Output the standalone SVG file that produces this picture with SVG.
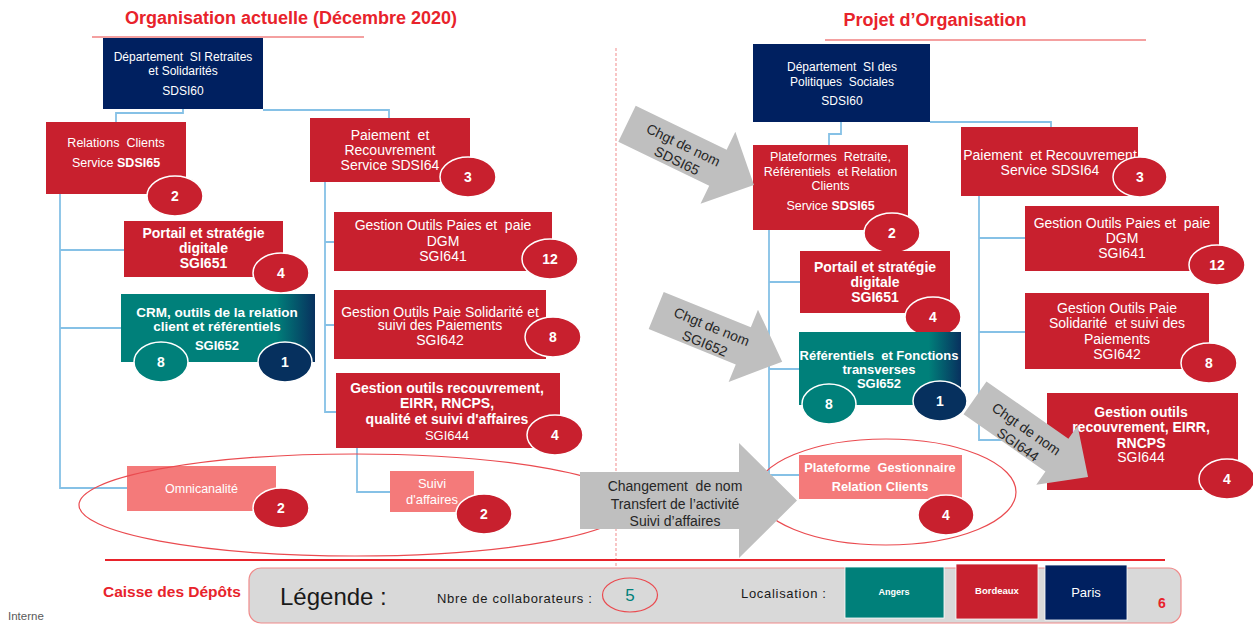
<svg xmlns="http://www.w3.org/2000/svg" width="1253" height="625" viewBox="0 0 1253 625">
<defs>
<linearGradient id="tealGrad" x1="0" y1="0" x2="1" y2="0">
<stop offset="0" stop-color="#00807a"/>
<stop offset="0.8" stop-color="#00807a"/>
<stop offset="1" stop-color="#08305e"/>
</linearGradient>
<style>
text{font-family:'Liberation Sans',Arial,sans-serif;white-space:pre}
.red{fill:#c8202e}
.navy{fill:#002060}
.teal{fill:url(#tealGrad)}
.salmon{fill:#f47a7a}
.lbl{fill:#fff;text-anchor:middle}
.b{font-weight:bold}
.s12{font-size:12px}
.s125{font-size:12.5px}
.s13{font-size:13px}
.s14{font-size:14px}
.bdg ellipse{stroke:#fff;stroke-width:1.5}
.bdg text{fill:#fff;font-size:14px;font-weight:bold;text-anchor:middle}
.br{fill:#c8202e}
.bt{fill:#00807a}
.bn{fill:#06305e}
.conn{fill:none;stroke:#86c1e6;stroke-width:1.8}
.garrow{fill:#bfbfbf}
.gtxt{fill:#262626;font-size:14px;text-anchor:middle}
.title{fill:#e8232b;font-size:18px;font-weight:bold;text-anchor:middle}
.uline{stroke:#f08080;stroke-width:1.5}
.ell{fill:none;stroke:#ea4b50;stroke-width:1.2}
</style>
</defs>
<rect width="1253" height="625" fill="#fff"/>

<!-- titles -->
<text class="title" x="291" y="24">Organisation actuelle (Décembre 2020)</text>
<line class="uline" x1="92" y1="37" x2="364" y2="37"/>
<text class="title" x="935" y="26">Projet d’Organisation</text>
<line class="uline" x1="825" y1="40" x2="1146" y2="40"/>

<!-- separator -->
<line x1="616" y1="48" x2="616" y2="578" stroke="#f4a0a0" stroke-width="1.2" stroke-dasharray="3 2"/>

<!-- connectors -->
<g id="connectors">
<path class="conn" d="M183,109 V113 H116 V122"/>
<path class="conn" d="M263,110 H389 V118"/>
<path class="conn" d="M60,194 V488 H127 M60,250 H124 M60,328 H121"/>
<path class="conn" d="M325,182 V412 H336 M325,242 H334 M325,325 H334"/>
<path class="conn" d="M357,448 V492 H390"/>
<path class="conn" d="M841,122 V134 H829 V145"/>
<path class="conn" d="M930,122 H1051 V127"/>
<path class="conn" d="M769,230 V475 H799 M769,282 H800 M769,369 H799"/>
<path class="conn" d="M979,196 V440 H1047 M979,238 H1025 M979,332 H1025"/>
</g>

<!-- left nodes -->
<g id="n-dept-left">
<rect class="navy" x="103" y="38" width="160" height="71"/>
<text class="lbl s12" x="183" y="61">Département  SI Retraites</text>
<text class="lbl s12" x="183" y="75">et Solidarités</text>
<text class="lbl s12" x="183" y="95">SDSI60</text>
</g>
<g id="n-relcli">
<rect class="red" x="46" y="122" width="140" height="72"/>
<text class="lbl s125" x="116" y="146.5">Relations  Clients</text>
<text class="lbl s125" x="116" y="167">Service <tspan class="b">SDSI65</tspan></text>
<g class="bdg"><ellipse class="br" cx="175" cy="196" rx="28" ry="20"/><text x="175" y="201">2</text></g>
</g>
<g id="n-paie-left">
<rect class="red" x="310" y="118" width="160" height="64"/>
<text class="lbl s14" x="390" y="140">Paiement  et</text>
<text class="lbl s14" x="390" y="155">Recouvrement</text>
<text class="lbl s14" x="390" y="170">Service SDSI64</text>
<g class="bdg"><ellipse class="br" cx="468" cy="177" rx="28" ry="20"/><text x="468" y="182">3</text></g>
</g>
<g id="n-portail-left">
<rect class="red" x="124" y="221" width="159" height="56"/>
<text class="lbl s14 b" x="203.5" y="238">Portail et stratégie</text>
<text class="lbl s14 b" x="203.5" y="253">digitale</text>
<text class="lbl s14 b" x="203.5" y="268">SGI651</text>
<g class="bdg"><ellipse class="br" cx="281" cy="273" rx="28" ry="20"/><text x="281" y="278">4</text></g>
</g>
<g id="n-crm">
<rect class="teal" x="121" y="294" width="194" height="68"/>
<text class="lbl b" style="font-size:13.5px" x="217" y="317">CRM, outils de la relation</text>
<text class="lbl b" style="font-size:13.5px" x="217" y="331">client et référentiels</text>
<text class="lbl s13 b" x="217" y="350">SGI652</text>
<g class="bdg"><ellipse class="bt" cx="161" cy="362" rx="27" ry="20"/><text x="161" y="367">8</text></g>
<g class="bdg"><ellipse class="bn" cx="285" cy="362" rx="27" ry="20"/><text x="285" y="367">1</text></g>
</g>
<g id="n-gestpaies-left">
<rect class="red" x="334" y="212" width="218" height="59"/>
<text class="lbl s14" x="443" y="230">Gestion Outils Paies et  paie</text>
<text class="lbl s14" x="443" y="245.5">DGM</text>
<text class="lbl s14" x="443" y="260.5">SGI641</text>
<g class="bdg"><ellipse class="br" cx="550" cy="259" rx="28" ry="20"/><text x="550" y="264">12</text></g>
</g>
<g id="n-paiesol-left">
<rect class="red" x="334" y="290" width="212" height="69"/>
<text class="lbl s14" x="440" y="316.5">Gestion Outils Paie Solidarité et</text>
<text class="lbl s14" x="440" y="330">suivi des Paiements</text>
<text class="lbl s14" x="440" y="345">SGI642</text>
<g class="bdg"><ellipse class="br" cx="553" cy="337" rx="28" ry="20"/><text x="553" y="342">8</text></g>
</g>
<g id="n-recouv-left">
<rect class="red" x="336" y="373" width="224" height="75"/>
<text class="lbl s14 b" x="447" y="393">Gestion outils recouvrement,</text>
<text class="lbl s14 b" x="447" y="408">EIRR, RNCPS,</text>
<text class="lbl s14 b" x="447" y="424">qualité et suivi d'affaires</text>
<text class="lbl s13" x="447" y="440">SGI644</text>
<g class="bdg"><ellipse class="br" cx="555" cy="435" rx="28" ry="20"/><text x="555" y="440">4</text></g>
</g>
<g id="n-omni">
<rect class="salmon" x="127" y="466" width="149" height="45"/>
<text class="lbl s125" x="201.5" y="493">Omnicanalité</text>
<g class="bdg"><ellipse class="br" cx="281" cy="508" rx="28" ry="20"/><text x="281" y="513">2</text></g>
</g>
<g id="n-suivi">
<rect class="salmon" x="390" y="471" width="84" height="41"/>
<text class="lbl s13" x="432" y="488">Suivi</text>
<text class="lbl s13" x="432" y="504">d'affaires</text>
<g class="bdg"><ellipse class="br" cx="484" cy="514" rx="28" ry="20"/><text x="484" y="519">2</text></g>
</g>

<!-- right nodes -->
<g id="n-dept-right">
<rect class="navy" x="753" y="44" width="177" height="78"/>
<text class="lbl s12" x="842" y="71">Département  SI des</text>
<text class="lbl s12" x="842" y="85.5">Politiques  Sociales</text>
<text class="lbl s12" x="842" y="104.5">SDSI60</text>
</g>
<g id="n-plateformes">
<rect class="red" x="753" y="145" width="155" height="85"/>
<text class="lbl s125" x="830.5" y="161">Plateformes  Retraite,</text>
<text class="lbl s125" x="830.5" y="175.5">Référentiels  et Relation</text>
<text class="lbl s125" x="830.5" y="189.5">Clients</text>
<text class="lbl s125" x="830.5" y="209.5">Service <tspan class="b">SDSI65</tspan></text>
<g class="bdg"><ellipse class="br" cx="892" cy="233" rx="28" ry="20"/><text x="892" y="238">2</text></g>
</g>
<g id="n-paie-right">
<rect class="red" x="961" y="127" width="177" height="69"/>
<text class="lbl s14" x="1050" y="160">Paiement  et Recouvrement</text>
<text class="lbl s14" x="1050" y="175">Service SDSI64</text>
<g class="bdg"><ellipse class="br" cx="1140" cy="177" rx="27" ry="20"/><text x="1140" y="182">3</text></g>
</g>
<g id="n-portail-right">
<rect class="red" x="800" y="251" width="150" height="62"/>
<text class="lbl s14 b" x="875" y="271.5">Portail et stratégie</text>
<text class="lbl s14 b" x="875" y="287">digitale</text>
<text class="lbl s14 b" x="875" y="302">SGI651</text>
<g class="bdg"><ellipse class="br" cx="933" cy="317" rx="28" ry="20"/><text x="933" y="322">4</text></g>
</g>
<g id="n-referentiels">
<rect class="teal" x="799" y="332" width="162" height="73"/>
<text class="lbl s13 b" x="879" y="360">Référentiels  et Fonctions</text>
<text class="lbl s13 b" x="879" y="374">transverses</text>
<text class="lbl s13 b" x="879" y="387.5">SGI652</text>
<g class="bdg"><ellipse class="bt" cx="829" cy="404" rx="27" ry="20"/><text x="829" y="409">8</text></g>
<g class="bdg"><ellipse class="bn" cx="940" cy="401" rx="27" ry="20"/><text x="940" y="406">1</text></g>
</g>
<g id="n-gestpaies-right">
<rect class="red" x="1025" y="206" width="194" height="65"/>
<text class="lbl s14" x="1122" y="228">Gestion Outils Paies et  paie</text>
<text class="lbl s14" x="1122" y="243">DGM</text>
<text class="lbl s14" x="1122" y="258">SGI641</text>
<g class="bdg"><ellipse class="br" cx="1217" cy="265" rx="28" ry="20"/><text x="1217" y="270">12</text></g>
</g>
<g id="n-paiesol-right">
<rect class="red" x="1025" y="293" width="184" height="76"/>
<text class="lbl s14" x="1117" y="313">Gestion Outils Paie</text>
<text class="lbl s14" x="1117" y="328">Solidarité  et suivi des</text>
<text class="lbl s14" x="1117" y="344">Paiements</text>
<text class="lbl s14" x="1117" y="359">SGI642</text>
<g class="bdg"><ellipse class="br" cx="1209" cy="363" rx="28" ry="20"/><text x="1209" y="368">8</text></g>
</g>
<g id="n-recouv-right">
<rect class="red" x="1047" y="393" width="191" height="97"/>
<text class="lbl s14 b" x="1141" y="416.5">Gestion outils</text>
<text class="lbl s14 b" x="1141" y="431.5">recouvrement, EIRR,</text>
<text class="lbl s14 b" x="1141" y="447.5">RNCPS</text>
<text class="lbl s14" x="1141" y="462">SGI644</text>
<g class="bdg"><ellipse class="br" cx="1227" cy="479" rx="28" ry="20"/><text x="1227" y="484">4</text></g>
</g>
<g id="n-platgest">
<rect class="salmon" x="799" y="455" width="163" height="44"/>
<text class="lbl b" style="font-size:12.8px" x="880" y="472">Plateforme  Gestionnaire</text>
<text class="lbl b" style="font-size:12.8px" x="880" y="491">Relation Clients</text>
<g class="bdg"><ellipse class="br" cx="946" cy="515" rx="28" ry="20"/><text x="946" y="520">4</text></g>
</g>

<!-- grouping ellipses -->
<ellipse class="ell" cx="355" cy="505" rx="276" ry="51"/>
<ellipse class="ell" cx="886" cy="492" rx="130" ry="53"/>

<!-- gray block arrows -->
<g id="arrows">
<g id="a-sdsi65" transform="translate(627,123.7) rotate(25.8)">
<path class="garrow" d="M0,-20 H101 V-40 L141,0 L101,40 V20 H0 Z"/>
<text class="gtxt" x="60" y="-0.5">Chgt de nom</text>
<text class="gtxt" x="61" y="16.5">SDSI65</text>
</g>
<g id="a-sgi652" transform="translate(656.2,310.5) rotate(22.1)">
<path class="garrow" d="M0,-20 H94 V-39 L136,0 L94,39 V20 H0 Z"/>
<text class="gtxt" x="57.5" y="-1">Chgt de nom</text>
<text class="gtxt" x="57.5" y="17">SGI652</text>
</g>
<g id="a-sgi644" transform="translate(975,397.8) rotate(35)">
<path class="garrow" d="M0,-20 H100 V-36 L138,0 L100,36 V20 H0 Z"/>
<text class="gtxt" x="60" y="1">Chgt de nom</text>
<text class="gtxt" x="62" y="18.5">SGI644</text>
</g>
<g id="a-transfert">
<path class="garrow" d="M580,472 H739 V443 L797,500.5 L739,558 V529 H580 Z"/>
<text class="gtxt" x="675" y="491">Changement  de nom</text>
<text class="gtxt" x="675" y="508.5">Transfert de l’activité</text>
<text class="gtxt" x="675" y="526">Suivi d’affaires</text>
</g>
</g>

<!-- footer -->
<line x1="105" y1="560" x2="1165" y2="560" stroke="#e8232b" stroke-width="2"/>
<text x="103" y="597" style="font-size:15.5px;font-weight:bold;fill:#e8232b">Caisse des Dépôts</text>
<text x="8" y="620" style="font-size:11.5px;fill:#595959">Interne</text>

<g id="legend">
<rect x="249" y="568" width="932" height="55" rx="12" fill="#d9d9d9" stroke="#f08a8a" stroke-width="1.2"/>
<text x="280" y="605" style="font-size:24px;fill:#1a1a1a">Légende :</text>
<text x="437" y="603" style="font-size:13px;letter-spacing:0.7px;fill:#1a1a1a">Nbre de collaborateurs :</text>
<ellipse cx="630" cy="595" rx="27.5" ry="17" fill="none" stroke="#ea4b50" stroke-width="1.2"/>
<text x="630" y="601" style="font-size:17px;fill:#00807a;text-anchor:middle">5</text>
<text x="741" y="598" style="font-size:13px;letter-spacing:0.7px;fill:#1a1a1a">Localisation :</text>
<rect x="845" y="567" width="99" height="51" fill="#00807a" stroke="#fff" stroke-width="0.8"/>
<text x="894" y="595" style="font-size:9px;font-weight:bold;fill:#fff;text-anchor:middle">Angers</text>
<rect x="956" y="564" width="82" height="55" fill="#c8202e" stroke="#fff" stroke-width="0.8"/>
<text x="997" y="594" style="font-size:9.5px;font-weight:bold;fill:#fff;text-anchor:middle">Bordeaux</text>
<rect x="1045" y="565" width="82" height="55" fill="#002060" stroke="#fff" stroke-width="0.8"/>
<text x="1086" y="597" style="font-size:13px;fill:#fff;text-anchor:middle">Paris</text>
<text x="1162" y="608" style="font-size:14px;font-weight:bold;fill:#e8232b;text-anchor:middle">6</text>
</g>
</svg>
